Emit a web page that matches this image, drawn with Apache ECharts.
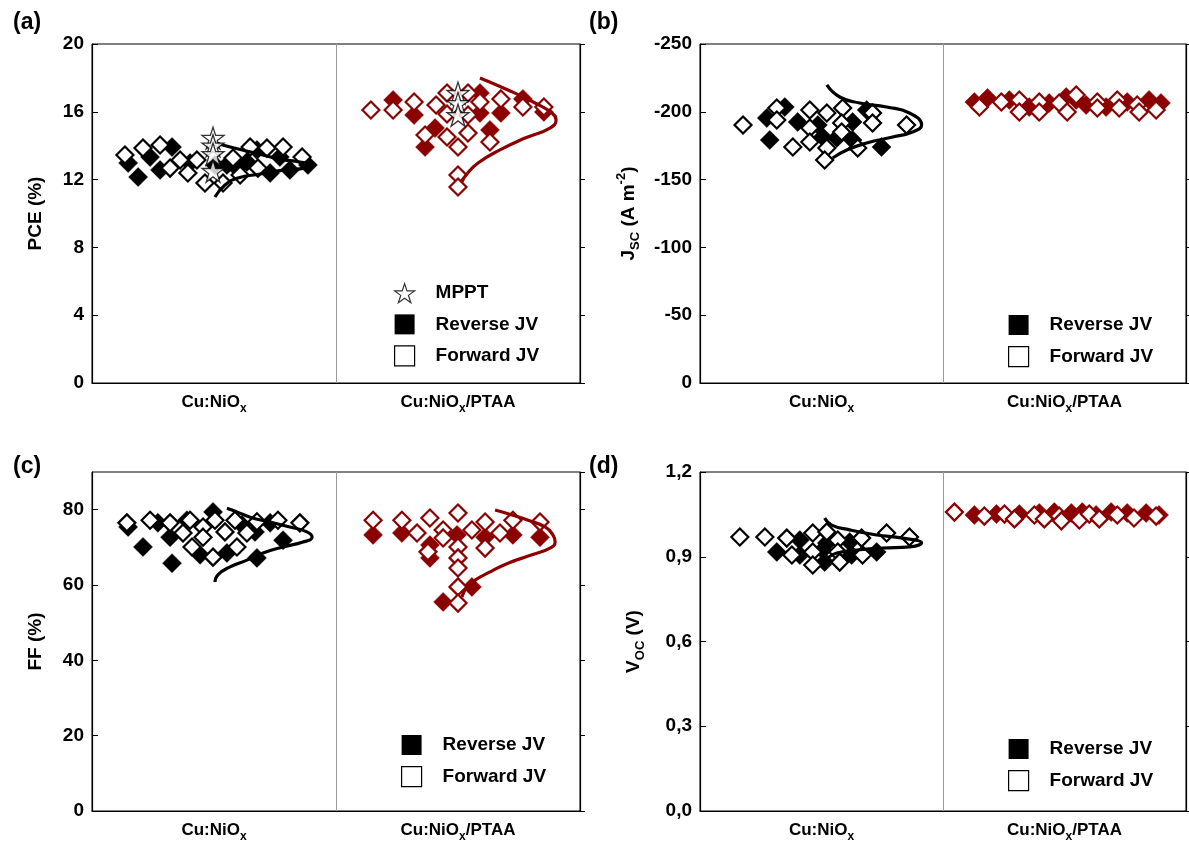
<!DOCTYPE html>
<html><head><meta charset="utf-8">
<script src="https://cdn.jsdelivr.net/npm/echarts@6/dist/echarts.min.js"></script>
<style>html,body{margin:0;padding:0;background:#fff}#c{width:1189px;height:851px}</style>
</head><body><div id="c"></div><script>
// ---------- DATA ----------
const categories = ['Cu:NiOx', 'Cu:NiOx/PTAA'];
// x = position inside category band (0..1 first group, 1..2 second group)
// (a) PCE (%)
const pceRevNiO = [[0.148,12.98],[0.189,12.15],[0.238,13.33],[0.279,12.57],[0.328,13.92],[0.402,12.98],[0.504,12.86],[0.553,12.86],[0.594,12.68],[0.635,13.04],[0.676,13.75],[0.730,12.39],[0.770,13.33],[0.811,12.57],[0.885,12.86]];
const pceFwdNiO = [[0.135,13.45],[0.209,13.86],[0.279,14.04],[0.361,13.16],[0.320,12.68],[0.393,12.39],[0.430,13.16],[0.463,11.80],[0.537,11.80],[0.578,13.27],[0.607,12.27],[0.648,13.92],[0.680,12.68],[0.717,13.86],[0.783,13.92],[0.861,13.33]];
const pceCurveNiO = [[0.496,14.22],[0.566,13.92],[0.668,13.57],[0.770,13.21],[0.852,13.04],[0.893,12.86],[0.873,12.68],[0.791,12.57],[0.689,12.33],[0.598,12.09],[0.545,11.68],[0.504,10.97]];
const pceMpptNiO = [[0.496,14.45],[0.496,14.0],[0.496,13.5],[0.496,12.5]];
const pceRevPTAA = [[1.234,16.70],[1.320,15.81],[1.406,15.04],[1.365,13.92],[1.590,17.11],[1.590,15.93],[1.676,15.93],[1.631,14.93],[1.766,16.76],[1.852,15.99]];
const pceFwdPTAA = [[1.143,16.11],[1.234,16.11],[1.320,16.58],[1.410,16.40],[1.455,17.11],[1.455,15.87],[1.541,17.11],[1.541,15.81],[1.590,16.58],[1.676,16.76],[1.766,16.28],[1.852,16.28],[1.365,14.63],[1.455,14.51],[1.541,14.75],[1.500,13.92],[1.631,14.22],[1.500,12.27],[1.500,11.56]];
const pceCurvePTAA = [[1.590,18.0],[1.705,17.29],[1.816,16.52],[1.885,15.93],[1.902,15.52],[1.877,15.04],[1.775,14.45],[1.672,13.75],[1.582,12.98],[1.533,12.27],[1.516,11.86]];
const pceMpptPTAA = [[1.500,17.1],[1.500,16.5],[1.500,15.8]];
// (b) Jsc (A m-2)
const jscRevNiO = [[0.349,-203.5],[0.275,-195.4],[0.287,-179.2],[0.402,-192.5],[0.485,-190.3],[0.505,-181.4],[0.628,-192.5],[0.563,-180.7],[0.628,-179.2],[0.686,-201.3],[0.747,-174.0]];
const jscFwdNiO = [[0.177,-190.3],[0.316,-202.8],[0.316,-194.0],[0.452,-201.3],[0.522,-199.1],[0.452,-188.1],[0.587,-202.8],[0.583,-191.7],[0.583,-185.1],[0.382,-174.0],[0.452,-177.7],[0.522,-173.3],[0.513,-164.5],[0.649,-173.3],[0.710,-199.1],[0.710,-191.7],[0.850,-190.3]];
const jscCurveNiO = [[0.522,-219.8],[0.575,-210.9],[0.657,-206.5],[0.768,-203.5],[0.862,-199.1],[0.912,-190.3],[0.875,-185.1],[0.793,-181.4],[0.686,-177.0],[0.604,-171.8],[0.546,-165.9]];
const jscRevPTAA = [[1.129,-207.2],[1.183,-210.2],[1.273,-208.7],[1.355,-203.5],[1.437,-206.5],[1.507,-210.9],[1.548,-208.7],[1.589,-205.0],[1.671,-203.5],[1.758,-207.2],[1.848,-208.7],[1.897,-206.5]];
const jscFwdPTAA = [[1.150,-203.5],[1.240,-207.2],[1.314,-208.7],[1.314,-199.9],[1.396,-207.2],[1.396,-199.9],[1.478,-206.5],[1.511,-199.9],[1.548,-212.4],[1.635,-207.2],[1.635,-202.8],[1.717,-208.7],[1.725,-202.8],[1.799,-205.0],[1.807,-199.9],[1.877,-201.3]];
// (c) FF (%)
const ffRevNiO = [[0.148,75.4],[0.209,70.1],[0.270,76.5],[0.328,65.8],[0.320,72.7],[0.389,77.2],[0.443,68.0],[0.496,79.4],[0.553,68.5],[0.615,75.9],[0.668,74.1],[0.730,76.5],[0.676,67.2],[0.783,71.9]];
const ffFwdNiO = [[0.143,76.5],[0.238,77.2],[0.320,76.5],[0.402,77.2],[0.455,75.4],[0.504,77.2],[0.373,73.8],[0.455,72.7],[0.545,74.1],[0.586,77.2],[0.635,73.8],[0.676,76.8],[0.762,77.2],[0.852,76.5],[0.410,70.1],[0.496,67.4],[0.594,70.1]];
const ffCurveNiO = [[0.553,80.4],[0.594,79.4],[0.648,78.0],[0.730,76.7],[0.811,75.4],[0.881,74.1],[0.902,72.7],[0.865,71.4],[0.783,70.1],[0.701,68.5],[0.635,66.6],[0.566,64.8],[0.516,62.7],[0.504,60.8]];
const ffRevPTAA = [[1.152,73.3],[1.270,73.8],[1.385,70.6],[1.385,67.2],[1.496,73.3],[1.611,72.7],[1.725,73.3],[1.836,72.7],[1.557,59.5],[1.439,55.5]];
const ffFwdPTAA = [[1.152,77.2],[1.270,77.2],[1.332,73.8],[1.385,77.8],[1.439,74.6],[1.439,72.5],[1.500,79.1],[1.557,74.6],[1.611,76.7],[1.672,73.8],[1.725,77.2],[1.836,76.7],[1.377,68.8],[1.500,70.1],[1.500,67.2],[1.500,64.5],[1.500,59.5],[1.500,55.2],[1.611,69.8]];
const ffCurvePTAA = [[1.652,79.9],[1.721,78.6],[1.787,77.2],[1.857,75.4],[1.889,73.3],[1.898,71.4],[1.877,69.8],[1.803,68.0],[1.705,65.8],[1.623,63.2],[1.570,61.3],[1.537,59.5],[1.516,56.8]];
// (d) Voc (V)
const vocRevNiO = [[0.316,0.917],[0.411,0.959],[0.411,0.906],[0.505,0.924],[0.513,0.881],[0.522,0.949],[0.616,0.952],[0.624,0.906],[0.727,0.917]];
const vocFwdNiO = [[0.164,0.970],[0.267,0.970],[0.357,0.966],[0.378,0.906],[0.464,0.984],[0.464,0.917],[0.464,0.871],[0.522,0.988],[0.567,0.959],[0.567,0.917],[0.575,0.881],[0.665,0.966],[0.669,0.906],[0.768,0.984],[0.862,0.970]];
const vocCurveNiO = [[0.513,1.037],[0.542,1.012],[0.616,0.995],[0.727,0.977],[0.834,0.966],[0.912,0.949],[0.862,0.935],[0.752,0.931],[0.645,0.924],[0.563,0.913],[0.526,0.896]];
const vocRevPTAA = [[1.129,1.048],[1.220,1.051],[1.314,1.051],[1.396,1.055],[1.458,1.058],[1.528,1.055],[1.573,1.058],[1.630,1.048],[1.692,1.058],[1.758,1.055],[1.836,1.055],[1.889,1.048]];
const vocFwdPTAA = [[1.047,1.058],[1.170,1.044],[1.253,1.051],[1.294,1.034],[1.376,1.048],[1.417,1.034],[1.478,1.044],[1.487,1.027],[1.561,1.030],[1.602,1.051],[1.643,1.034],[1.717,1.048],[1.786,1.037],[1.877,1.044]];
// axis ranges
const yRanges = [{min:0,max:20,interval:4},{min:-250,max:0,interval:50},{min:0,max:90,interval:20},{min:0,max:1.2,interval:0.3}];
const panelLabels = ['(a)','(b)','(c)','(d)'];

// ---------- STYLE / LAYOUT ----------
const FONT = '"Liberation Sans", Arial, sans-serif';
const BLACK = '#000', RED = '#8b0000';
const STAR = 'path://M50,2 L61.5,37 L98,37 L68.5,58.5 L80,94 L50,72 L20,94 L31.5,58.5 L2,37 L38.5,37 Z';
const grids = [
  {left:92, top:44, width:488, height:339},
  {left:700, top:44, width:487, height:339},
  {left:92, top:472, width:488, height:339},
  {left:700, top:472, width:487, height:339}
];
const yNames = [
  '{a|PCE (%)}',
  '{a|J}{sub|SC}{a| (A m}{sup|-2}{a|)}',
  '{a|FF (%)}',
  '{a|V}{sub|OC}{a| (V)}'
];
const yNameGaps = [47, 58, 47, 53];
const nameRich = {
  a:{fontSize:19, fontWeight:'bold', fontFamily:FONT, color:'#000'},
  sub:{fontSize:13, fontWeight:'bold', fontFamily:FONT, color:'#000', padding:[14,0,0,0]},
  sup:{fontSize:13, fontWeight:'bold', fontFamily:FONT, color:'#000', padding:[0,0,14,0]}
};
const xRich = {
  a:{fontSize:17, fontWeight:'bold', fontFamily:FONT, color:'#000'},
  s:{fontSize:12, fontWeight:'bold', fontFamily:FONT, color:'#000', padding:[14,0,0,0]}
};

const xAxis = [], yAxis = [], series = [];
grids.forEach((g, i) => {
  xAxis.push({
    type:'value', gridIndex:i, min:0, max:2, interval:0.5,
    axisLine:{show:true, lineStyle:{color:'#000', width:1.2}},
    axisTick:{show:false}, splitLine:{show:false},
    axisLabel:{margin:6, rich:xRich, formatter:v => {
      if (Math.abs(v-0.5) < 1e-6) return '{a|Cu:NiO}{s|x}';
      if (Math.abs(v-1.5) < 1e-6) return '{a|Cu:NiO}{s|x}{a|/PTAA}';
      return '';
    }}
  });
  const r = yRanges[i];
  yAxis.push({
    type:'value', gridIndex:i, min:r.min, max:r.max, interval:r.interval, inverse: i===1,
    position:'left',
    name: yNames[i], nameLocation:'middle', nameGap: yNameGaps[i], nameRotate:90,
    nameTextStyle:{rich:nameRich},
    axisLine:{show:true, lineStyle:{color:'#000', width:1.2}},
    axisTick:{show:true, inside:true, length:6, lineStyle:{color:'#000'}},
    splitLine:{show:false},
    axisLabel:{margin:8, fontSize:19, fontWeight:'bold', fontFamily:FONT, color:'#000',
      showMaxLabel: i===2 ? false : true,
      formatter: i===3 ? (v => v.toFixed(1).replace('.', ',')) : (v => String(v))}
  });
  yAxis.push({
    type:'value', gridIndex:i, min:r.min, max:r.max, interval:r.interval, inverse: i===1,
    position:'right',
    axisLine:{show:true, lineStyle:{color:'#000', width:1.2}},
    axisTick:{show:true, inside:false, length:5, lineStyle:{color:'#000'}},
    axisLabel:{show:false}, splitLine:{show:false}
  });
});

function diamonds(gi, data, color, filled, name) {
  return {
    type:'scatter', name, xAxisIndex:gi, yAxisIndex:2*gi, data, symbol:'diamond',
    symbolSize: filled ? 19 : 17,
    itemStyle: filled ? {color:color, borderColor:color, borderWidth:0.5, opacity:1}
                      : {color:'#fff', borderColor:color, borderWidth:2.2, opacity:1},
    z: filled ? 2 : 3, silent:true
  };
}
function curve(gi, data, color) {
  return {
    type:'line', xAxisIndex:gi, yAxisIndex:2*gi, data, smooth:0.5, showSymbol:false, symbol:'none',
    lineStyle:{color, width:3.2}, z:4, silent:true
  };
}
function stars(gi, data) {
  return {
    type:'scatter', name:'MPPT', xAxisIndex:gi, yAxisIndex:2*gi, data, symbol:STAR, symbolSize:22,
    itemStyle:{color:'#fff', borderColor:'#000', borderWidth:1.3}, z:5, silent:true
  };
}
function separator(gi) {
  return {
    type:'line', xAxisIndex:gi, yAxisIndex:2*gi, data:[], silent:true,
    markLine:{symbol:'none', silent:true, animation:false, label:{show:false},
      lineStyle:{color:'#999', type:'solid', width:1}, data:[{xAxis:1}]}
  };
}

// (a)
series.push(separator(0),
  diamonds(0, pceRevNiO, BLACK, true, 'Reverse JV'), diamonds(0, pceFwdNiO, BLACK, false, 'Forward JV'),
  diamonds(0, pceRevPTAA, RED, true, 'Reverse JV'), diamonds(0, pceFwdPTAA, RED, false, 'Forward JV'),
  curve(0, pceCurveNiO, BLACK), curve(0, pceCurvePTAA, RED),
  stars(0, pceMpptNiO), stars(0, pceMpptPTAA));
// (b)
series.push(separator(1),
  diamonds(1, jscRevNiO, BLACK, true, 'Reverse JV'), diamonds(1, jscFwdNiO, BLACK, false, 'Forward JV'),
  diamonds(1, jscRevPTAA, RED, true, 'Reverse JV'), diamonds(1, jscFwdPTAA, RED, false, 'Forward JV'),
  curve(1, jscCurveNiO, BLACK));
// (c)
series.push(separator(2),
  diamonds(2, ffRevNiO, BLACK, true, 'Reverse JV'), diamonds(2, ffFwdNiO, BLACK, false, 'Forward JV'),
  diamonds(2, ffRevPTAA, RED, true, 'Reverse JV'), diamonds(2, ffFwdPTAA, RED, false, 'Forward JV'),
  curve(2, ffCurveNiO, BLACK), curve(2, ffCurvePTAA, RED));
// (d)
series.push(separator(3),
  diamonds(3, vocRevNiO, BLACK, true, 'Reverse JV'), diamonds(3, vocFwdNiO, BLACK, false, 'Forward JV'),
  diamonds(3, vocRevPTAA, RED, true, 'Reverse JV'), diamonds(3, vocFwdPTAA, RED, false, 'Forward JV'),
  curve(3, vocCurveNiO, BLACK));

const legendText = {fontSize:19, fontWeight:'bold', fontFamily:FONT, color:'#000', padding:[0,0,0,16]};
const legRev = {name:'Reverse JV', icon:'rect', itemStyle:{color:'#000', borderColor:'#000', borderWidth:0}};
const legFwd = {name:'Forward JV', icon:'rect', itemStyle:{color:'#fff', borderColor:'#000', borderWidth:1.2}};
const legMppt = {name:'MPPT', icon:STAR, itemStyle:{color:'#fff', borderColor:'#000', borderWidth:1.2}};
function legend(left, top, data) {
  return {left, top, orient:'vertical', itemWidth:20, itemHeight:20, itemGap:11, selectedMode:false,
    textStyle:legendText, data, padding:0};
}

const option = {
  animation:false,
  backgroundColor:'#fff',
  title: panelLabels.map((t, i) => ({
    text:t, left: i%2===0 ? 8 : 584, top: i<2 ? 6 : 450,
    textStyle:{fontSize:23, fontWeight:'bold', fontFamily:FONT, color:'#000'}
  })),
  grid: grids.map(g => Object.assign({show:true, borderColor:'#000', borderWidth:1, backgroundColor:'transparent'}, g)),
  legend: [
    legend(394, 283, [legMppt, legRev, legFwd]),
    legend(1008, 315, [legRev, legFwd]),
    legend(401, 735, [legRev, legFwd]),
    legend(1008, 739, [legRev, legFwd])
  ],
  xAxis, yAxis, series
};
const chart = echarts.init(document.getElementById('c'), null, {renderer:'canvas'});
chart.setOption(option);
</script></body></html>
